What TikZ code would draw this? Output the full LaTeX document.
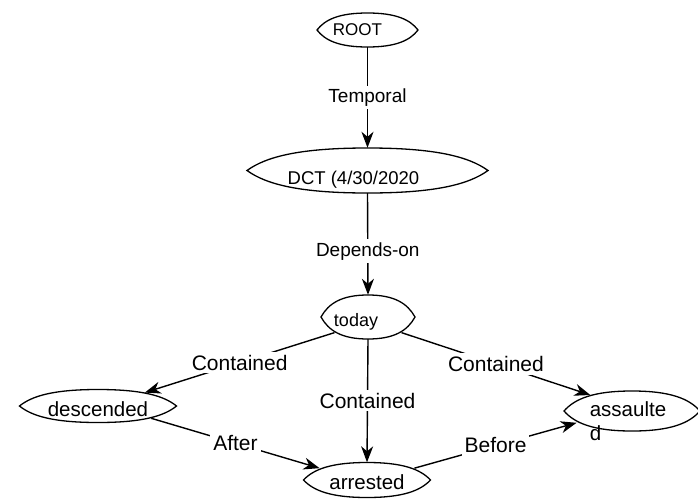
\documentclass[tikz,border=0pt]{standalone}
\usepackage{fontspec}
\setmainfont{Liberation Sans}
\usetikzlibrary{arrows.meta,shapes.geometric,calc}

% outline of a node: an oval with pointed left and right ends
% #1 node name, #2 half width, #3 half height
\newcommand\ovalof[3]{%
  \draw[oval] ($(#1.center)+(-#2,0)$)
      .. controls +(0.16*#2,0.62*#3) and +(-0.56*#2,0) .. ($(#1.center)+(0,#3)$)
      .. controls +(0.56*#2,0) and +(-0.16*#2,0.62*#3) .. ($(#1.center)+(#2,0)$)
      .. controls +(-0.16*#2,-0.62*#3) and +(0.56*#2,0) .. ($(#1.center)+(0,-#3)$)
      .. controls +(-0.56*#2,0) and +(0.16*#2,-0.62*#3) .. cycle;}

\begin{document}
\begin{tikzpicture}[x=1pt,y=1pt,
  state/.style={ellipse, draw=none, inner sep=0pt},
  oval/.style={line width=1.3pt, black},
  rel/.style={line width=1.4pt, -{Stealth[length=16pt,width=12pt,inset=5pt]}},
  lab/.style={fill=white, inner sep=3pt, font=\fontsize{21}{24}\selectfont},
  smalllab/.style={fill=white, inner sep=3pt, font=\fontsize{19}{22}\selectfont},
  big/.style={font=\fontsize{20.5}{24}\selectfont},
]
\useasboundingbox (0,-498) rectangle (698,0);

% states
\node[state, minimum width=101pt, minimum height=34pt,
  label={[font=\fontsize{17}{20}\selectfont, xshift=-10pt]center:ROOT}]
  (root) at (367.5,-30) {};
\node[state, minimum width=241pt, minimum height=45pt,
  label={[font=\fontsize{18.5}{21}\selectfont, xshift=-14pt, yshift=-9pt]center:DCT (4/30/2020}]
  (dct) at (367.5,-170.5) {};
\node[state, minimum width=94pt, minimum height=44pt,
  label={[font=\fontsize{18}{21}\selectfont, xshift=-12pt, yshift=-5pt]center:today}]
  (today) at (368,-317) {};
\node[state, minimum width=157pt, minimum height=33pt,
  label={[big, yshift=-3pt]center:descended}]
  (desc) at (98,-406) {};
\node[state, minimum width=127pt, minimum height=35pt,
  label={[big, yshift=-2pt]center:arrested}]
  (arr) at (367,-480) {};
\node[state, minimum width=136pt, minimum height=40pt,
  label={[big, align=left, xshift=-4pt, yshift=-10pt]center:assaulte\\d}]
  (ass) at (632,-411) {};

\ovalof{root}{50.5}{17}
\ovalof{dct}{120.5}{22.5}
\ovalof{today}{47}{22}
\ovalof{desc}{78.5}{16.5}
\ovalof{arr}{63.5}{17.5}
\ovalof{ass}{68}{20}

% relations
\draw[rel] (root.south) -- node[smalllab] {Temporal} (dct.north);
\draw[rel] (dct.south) -- node[smalllab, pos=0.57] {Depends-on} (today.north);
\draw[rel] (today.205) -- node[lab] {Contained} (desc.16);
\draw[rel] (today.south) -- node[lab] {Contained} (arr.north);
\draw[rel] (today.-25) -- node[lab] {Contained} (ass.159);
\draw[rel] (desc.-13) -- node[lab] {After} (arr.166);
\draw[rel] (arr.14) -- node[lab] {Before} (ass.192);
\end{tikzpicture}
\end{document}
